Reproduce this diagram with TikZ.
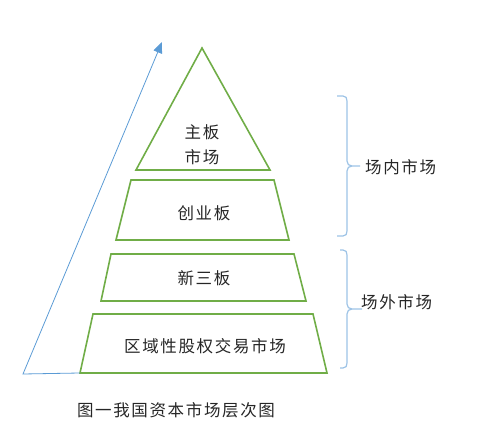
\documentclass[tikz,border=0pt]{standalone}
\usepackage{fontspec}
\setmainfont{Noto Sans CJK SC}
\usetikzlibrary{arrows.meta}
\definecolor{pgreen}{HTML}{70AD47}
\definecolor{pblue}{HTML}{5B9BD5}
\definecolor{bblue}{HTML}{9DC3E6}
\begin{document}
\begin{tikzpicture}[x=1pt,y=-1pt,
  layer/.style={draw=pgreen,line width=1.6pt,line join=miter},
  lbl/.style={font=\fontsize{16.5}{19}\selectfont\addfontfeature{LetterSpace=10},inner sep=0pt,text=black!85},
  brc/.style={draw=bblue,line width=1.2pt}]
\useasboundingbox (0,0) rectangle (480,422);
% pyramid layers
\draw[layer] (202,48) -- (270,170) -- (136,170) -- cycle;
\draw[layer] (131,180) -- (274,180) -- (289,240) -- (116,240) -- cycle;
\draw[layer] (111,254) -- (294,254) -- (306,301) -- (101,301) -- cycle;
\draw[layer] (93,314) -- (313,314) -- (327,373) -- (80,373) -- cycle;
% blue arrow
\coordinate (b0) at (80,373);
\coordinate (b1) at (23,374);
\coordinate (b2) at (162,42);
\draw[pblue,line width=0.8pt,-{Triangle[length=11pt,width=9pt]}] (b0) -- (b1) -- (b2);
% braces
\draw[brc] (337,96) -- (343,96) .. controls (346,96) and (347,98) .. (347,101)
  -- (347,161) .. controls (347,164) and (349,166) .. (352,166) -- (360,166);
\draw[brc] (352,166) .. controls (349,166) and (347,168) .. (347,171)
  -- (347,231) .. controls (347,234) and (346,236) .. (343,236) -- (337,236);
\draw[brc] (340,250) -- (343,250) .. controls (346,250) and (347,252) .. (347,255)
  -- (347,304) .. controls (347,307) and (349,309) .. (352,309) -- (362,309);
\draw[brc] (352,309) .. controls (349,309) and (347,311) .. (347,314)
  -- (347,363) .. controls (347,366) and (346,368) .. (343,368) -- (340,368);
% labels
\node[lbl] (t1a) at (202,132) {主板};
\node[lbl] (t1b) at (202,157) {市场};
\node[lbl] (t2) at (204,213) {创业板};
\node[lbl] (t3) at (204,278) {新三板};
\node[lbl] (t4) at (205,346) {区域性股权交易市场};
\node[lbl,anchor=west] (in) at (365,167) {场内市场};
\node[lbl,anchor=west] (out) at (361,302) {场外市场};
\node[lbl] (cap) at (176,410) {图一我国资本市场层次图};
\end{tikzpicture}
\end{document}
